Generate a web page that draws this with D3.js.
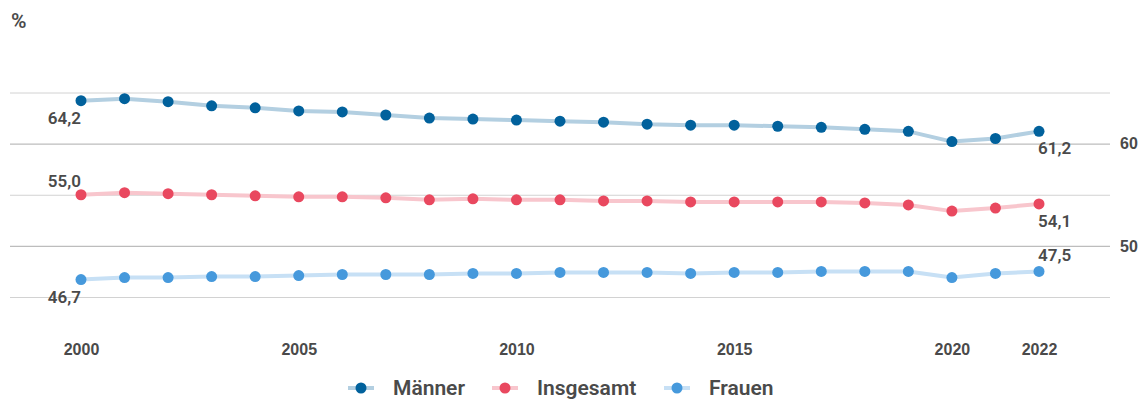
<!DOCTYPE html>
<html lang="de">
<head>
    <meta charset="UTF-8">
    <title>Quote nach Geschlecht 2000-2022</title>
    <script src="https://d3js.org/d3.v7.min.js"></script>
    <style>
        body { margin: 0; background: #fff; }
        svg { font-family: Roboto, "Open Sans", sans-serif; }
        .tick text { fill: #4a4a4a; }
    </style>
</head>
<body>
    <svg id="chart" width="1147" height="401"></svg>

    <script>
        // Data
        const years = d3.range(2000, 2023);
        const maenner = [64.2, 64.4, 64.1, 63.7, 63.5, 63.2, 63.1, 62.8, 62.5, 62.4, 62.3, 62.2,
                         62.1, 61.9, 61.8, 61.8, 61.7, 61.6, 61.4, 61.2, 60.2, 60.5, 61.2];
        const insgesamt = [55.0, 55.2, 55.1, 55.0, 54.9, 54.8, 54.8, 54.7, 54.5, 54.6, 54.5, 54.5,
                           54.4, 54.4, 54.3, 54.3, 54.3, 54.3, 54.2, 54.0, 53.4, 53.7, 54.1];
        const frauen = [46.7, 46.9, 46.9, 47.0, 47.0, 47.1, 47.2, 47.2, 47.2, 47.3, 47.3, 47.4,
                        47.4, 47.4, 47.3, 47.4, 47.4, 47.5, 47.5, 47.5, 46.9, 47.3, 47.5];
        const xTicks = [2000, 2005, 2010, 2015, 2020, 2022];
        const gridTicks = [45, 50, 55, 60, 65];
        const yLabelTicks = [50, 60];

        const series = [
            { name: "Männer", values: maenner, dot: "#01619c", line: "#b3cfe1", labelStart: "below", labelEnd: "below" },
            { name: "Insgesamt", values: insgesamt, dot: "#e9485f", line: "#f8c6cd", labelStart: "above", labelEnd: "below" },
            { name: "Frauen", values: frauen, dot: "#4699dc", line: "#c7e0f5", labelStart: "below", labelEnd: "above" }
        ];

        const de = d3.formatLocale({ decimal: ",", thousands: ".", grouping: [3], currency: ["", " €"] });
        const fmt = de.format(".1f");

        const svg = d3.select("#chart");

        // Scales
        const x = d3.scaleLinear().domain([2000, 2022]).range([81, 1039]);
        const y = d3.scaleLinear().domain([45, 65]).range([297, 92.5]);

        // Gridlines
        const grid = svg.append("g")
            .attr("transform", "translate(10,0)")
            .call(d3.axisRight(y).tickValues(gridTicks).tickSize(1100).tickFormat(""));
        grid.select(".domain").remove();
        grid.selectAll(".tick line")
            .attr("stroke", d => yLabelTicks.includes(d) ? "#bdbdbd" : "#d2d2d2")
            .attr("stroke-width", d => yLabelTicks.includes(d) ? 1.4 : 1);

        // Right y labels
        const yAxis = svg.append("g")
            .attr("transform", "translate(1120,0)")
            .call(d3.axisRight(y).tickValues(yLabelTicks).tickSize(0).tickPadding(0));
        yAxis.select(".domain").remove();
        yAxis.selectAll("text")
            .style("font-size", "16px")
            .style("font-weight", "600");

        // X axis
        const xAxis = svg.append("g")
            .attr("transform", "translate(0,338)")
            .call(d3.axisBottom(x).tickValues(xTicks).tickFormat(d3.format("d")).tickSize(0).tickPadding(6));
        xAxis.select(".domain").remove();
        xAxis.selectAll("text")
            .style("font-size", "16px")
            .style("font-weight", "bold");

        // Unit
        svg.append("text")
            .attr("x", 11)
            .attr("y", 28)
            .attr("fill", "#4a4a4a")
            .style("font-size", "21px")
            .style("font-weight", "600")
            .text("%");

        const line = d3.line()
            .x((d, i) => x(years[i]))
            .y(d => y(d));

        // Lines
        series.forEach(s => {
            svg.append("path")
                .datum(s.values)
                .attr("fill", "none")
                .attr("stroke", s.line)
                .attr("stroke-width", 4)
                .attr("stroke-linejoin", "round")
                .attr("d", line);
        });

        // Dots
        series.forEach(s => {
            svg.append("g")
                .selectAll("circle")
                .data(s.values)
                .join("circle")
                .attr("cx", (d, i) => x(years[i]))
                .attr("cy", d => y(d))
                .attr("r", 5.5)
                .attr("fill", s.dot);
        });

        // Value labels at start and end
        series.forEach(s => {
            const first = s.values[0];
            const last = s.values[s.values.length - 1];
            svg.append("text")
                .attr("x", x(years[0]))
                .attr("y", y(first) + (s.labelStart === "below" ? 23 : -8))
                .attr("text-anchor", "end")
                .attr("fill", "#4a4a4a")
                .style("font-size", "17px")
                .style("font-weight", "600")
                .text(fmt(first));
            svg.append("text")
                .attr("x", x(years[years.length - 1]) - 1)
                .attr("y", y(last) + (s.labelEnd === "below" ? 23 : -10))
                .attr("text-anchor", "start")
                .attr("fill", "#4a4a4a")
                .style("font-size", "17px")
                .style("font-weight", "600")
                .text(fmt(last));
        });

        // Legend
        const legendX = [348, 492, 664];
        const legend = svg.append("g")
            .selectAll("g")
            .data(series)
            .join("g")
            .attr("transform", (d, i) => `translate(${legendX[i]},388)`);
        legend.append("line")
            .attr("x1", 0).attr("x2", 26)
            .attr("stroke", d => d.line)
            .attr("stroke-width", 4);
        legend.append("circle")
            .attr("cx", 13)
            .attr("r", 5.5)
            .attr("fill", d => d.dot);
        legend.append("text")
            .attr("x", 45)
            .attr("dy", "0.33em")
            .attr("fill", "#4a4a4a")
            .style("font-size", "21px")
            .style("font-weight", "600")
            .text(d => d.name);
    </script>
</body>
</html>
